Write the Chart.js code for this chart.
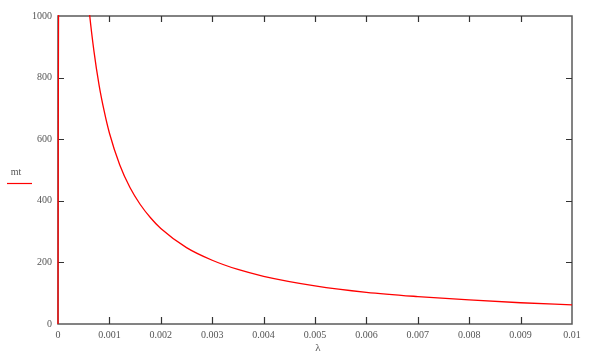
<!DOCTYPE html>
<html>
<head>
<meta charset="utf-8">
<script src="https://cdn.jsdelivr.net/npm/chart.js@4.4.1/dist/chart.umd.min.js"></script>
<style>
html,body{margin:0;padding:0;background:#fff;}
#wrap{width:605px;height:358px;}
</style>
</head>
<body>
<div id="wrap"><canvas id="c" width="605" height="358"></canvas></div>
<script>
// Data (λ vs mt)
const lambdaValues = [0, 0.000005, 0.00002, 0.0005, 0.0006, 0.0007, 0.0008, 0.0009, 0.001, 0.0012, 0.0014, 0.0016, 0.0018, 0.002, 0.0025, 0.003, 0.0035, 0.004, 0.005, 0.006, 0.007, 0.008, 0.009, 0.01];
const mtValues     = [0, 620, 1300, 1240, 1030, 885, 775, 690, 620, 517, 443, 388, 345, 310, 248, 207, 177, 155, 124, 103, 89, 78, 69, 62];
const xTickLabels = ['0','0.001','0.002','0.003','0.004','0.005','0.006','0.007','0.008','0.009','0.01'];
const yTickLabels = ['0','200','400','600','800','1000'];
const seriesName = 'mt';
const xTitle = 'λ';

const points = lambdaValues.map((x, i) => ({x: x, y: mtValues[i]}));
const FONT = '"Liberation Serif", "DejaVu Serif", serif';
const TXT = '#555555';
const AXIS = '#5a5a5a';

const framePlugin = {
  id: 'frame',
  beforeDatasetsDraw(chart) {
    const {ctx, chartArea: a, scales} = chart;
    ctx.save();
    ctx.strokeStyle = AXIS;
    ctx.lineWidth = 1.5;
    ctx.strokeRect(a.left, a.top, a.right - a.left, a.bottom - a.top);
    ctx.lineWidth = 1.2;
    ctx.strokeStyle = '#333';
    const xs = scales.x, ys = scales.y;
    xs.ticks.forEach((t, i) => {
      if (i === 0 || i === xs.ticks.length - 1) return;
      const px = Math.round(xs.getPixelForValue(t.value)) + 0.5;
      ctx.beginPath();
      ctx.moveTo(px, a.bottom); ctx.lineTo(px, a.bottom - 7);
      ctx.moveTo(px, a.top); ctx.lineTo(px, a.top + 6);
      ctx.stroke();
    });
    ys.ticks.forEach((t, i) => {
      if (i === 0 || i === ys.ticks.length - 1) return;
      const py = Math.round(ys.getPixelForValue(t.value)) + 0.5;
      ctx.beginPath();
      ctx.moveTo(a.left, py); ctx.lineTo(a.left + 6, py);
      ctx.moveTo(a.right, py); ctx.lineTo(a.right - 6, py);
      ctx.stroke();
    });
    ctx.restore();
  },
  afterDraw(chart) {
    const {ctx, chartArea: a} = chart;
    ctx.save();
    ctx.fillStyle = TXT;
    ctx.font = '11px ' + FONT;
    ctx.textAlign = 'center';
    ctx.textBaseline = 'middle';
    ctx.fillText(xTitle, (a.left + a.right) / 2 + 3, a.bottom + 24);
    ctx.font = '10px ' + FONT;
    ctx.fillText(seriesName, 16, 172);
    ctx.strokeStyle = '#ff0000';
    ctx.lineWidth = 1.2;
    ctx.beginPath();
    ctx.moveTo(7, 183.5); ctx.lineTo(32, 183.5);
    ctx.stroke();
    ctx.restore();
  }
};

new Chart(document.getElementById('c'), {
  type: 'scatter',
  data: {
    datasets: [{
      label: seriesName,
      data: points,
      showLine: true,
      borderColor: '#ff0000',
      backgroundColor: '#ff0000',
      borderWidth: 1.3,
      pointRadius: 0,
      cubicInterpolationMode: 'monotone',
      clip: 1
    }]
  },
  options: {
    responsive: false,
    animation: false,
    devicePixelRatio: 1,
    layout: {padding: {left: 0, right: 33, top: 16, bottom: 0}},
    plugins: {legend: {display: false}, tooltip: {enabled: false}},
    scales: {
      x: {
        type: 'linear', min: 0, max: 0.01,
        afterFit(s) { s.height = 34; },
        grid: {display: false, drawTicks: false},
        border: {display: false},
        ticks: {
          stepSize: 0.001, padding: 5, maxRotation: 0, autoSkip: false,
          color: TXT, font: {family: FONT, size: 10},
          callback: (v, i) => xTickLabels[i]
        }
      },
      y: {
        type: 'linear', min: 0, max: 1000,
        afterFit(s) { s.width = 58; },
        grid: {display: false, drawTicks: false},
        border: {display: false},
        ticks: {
          stepSize: 200, padding: 6,
          color: TXT, font: {family: FONT, size: 10},
          callback: (v, i) => yTickLabels[i]
        }
      }
    }
  },
  plugins: [framePlugin]
});
</script>
</body>
</html>
